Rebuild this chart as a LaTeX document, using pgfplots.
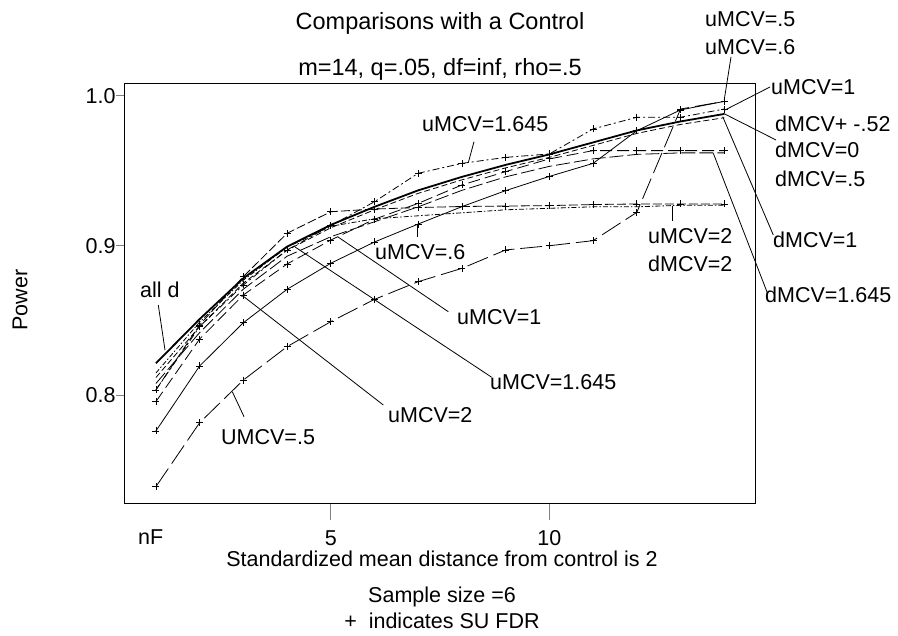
\documentclass[border=0pt]{standalone}
\usepackage{pgfplots}
\pgfplotsset{compat=1.18}
\usepackage{fontspec}
\setmainfont{Liberation Sans}
\begin{document}
\begin{tikzpicture}[x=1bp,y=1bp,font=\fontsize{21.5bp}{24bp}\selectfont]
\path[use as bounding box] (0,0) rectangle (898,636);
\begin{axis}[
  at={(124bp,132bp)}, anchor=south west,
  width=631bp, height=420bp, scale only axis,
  xmin=0.2704, xmax=14.703, ymin=0.72755, ymax=1.00801,
  xtick={5,10}, xticklabels={5,10},
  ytick={0.8,0.9,1.0}, yticklabels={0.8,0.9,1.0},
  tick align=outside, tick pos=left,
  xtick style={/pgfplots/major tick length=16bp, line width=1bp},
  ytick style={/pgfplots/major tick length=8bp, line width=1bp},
  axis line style={line width=1bp},
  tick label style={font=\fontsize{21.5bp}{24bp}\selectfont, inner sep=0pt},
  xticklabel style={anchor=base, yshift=-37bp},
  yticklabel style={anchor=east, xshift=-4bp},
  every axis plot/.append style={line width=0.8bp, black},
  mk/.style={mark=+, mark size=3.5bp, mark options={solid, line width=0.8bp}},
]
% uMCV=.5 (long dash)
\addplot[mk, dash pattern=on 22bp off 6bp] coordinates {(1,0.7391)(2,0.7818)(3,0.8103)(4,0.8326)(5,0.8493)(6,0.8642)(7,0.8760)(8,0.8849)(9,0.8972)(10,0.9000)(11,0.9034)(12,0.9223)(13,0.9913)(14,0.9964)};
% uMCV=.6 (solid)
\addplot[mk] coordinates {(1,0.7763)(2,0.8197)(3,0.8486)(4,0.8709)(5,0.8883)(6,0.9025)(7,0.9145)(8,0.9261)(9,0.9368)(10,0.9463)(11,0.9550)(12,0.9768)(13,0.9907)(14,0.9964)};
% flat ~0.927 (dashed)
\addplot[mk, dash pattern=on 9bp off 3bp] coordinates {(1,0.8037)(2,0.8471)(3,0.8794)(4,0.9083)(5,0.9227)(6,0.9245)(7,0.9255)(8,0.9262)(9,0.9265)(10,0.9268)(11,0.9275)(12,0.9279)(13,0.9279)(14,0.9279)};
% ->0.963 (dashed)
\addplot[mk, dash pattern=on 12bp off 5bp] coordinates {(1,0.7959)(2,0.8377)(3,0.8671)(4,0.8878)(5,0.9038)(6,0.9177)(7,0.9283)(8,0.9406)(9,0.9495)(10,0.9580)(11,0.9635)(12,0.9635)(13,0.9635)(14,0.9635)};
% ->0.991 (dash dot)
\addplot[mk, dash pattern=on 7bp off 3bp on 2bp off 3bp] coordinates {(1,0.8037)(2,0.8460)(3,0.8738)(4,0.8972)(5,0.9134)(6,0.9294)(7,0.9484)(8,0.9550)(9,0.9590)(10,0.9613)(11,0.9780)(12,0.9858)(13,0.9858)(14,0.9913)};
% all d (thick, no marks)
\addplot[line width=1.8bp] coordinates {(1,0.8215)(2,0.8510)(3,0.8783)(4,0.8994)(5,0.9139)(6,0.9260)(7,0.9370)(8,0.9460)(9,0.9540)(10,0.9610)(11,0.9690)(12,0.9770)(13,0.9830)(14,0.9880)};
% dMCV=1
\addplot[dash pattern=on 6bp off 3bp] coordinates {(1,0.8120)(2,0.8460)(3,0.8750)(4,0.8970)(5,0.9120)(6,0.9240)(7,0.9350)(8,0.9440)(9,0.9520)(10,0.9590)(11,0.9670)(12,0.9750)(13,0.9810)(14,0.9855)};
% dMCV=1.645
\addplot[dash pattern=on 14bp off 4bp] coordinates {(1,0.8080)(2,0.8420)(3,0.8710)(4,0.8930)(5,0.9060)(6,0.9160)(7,0.9260)(8,0.9370)(9,0.9460)(10,0.9530)(11,0.9580)(12,0.9610)(13,0.9620)(14,0.9620)};
% dMCV=2
\addplot[dash pattern=on 5bp off 2bp on 1.5bp off 2bp] coordinates {(1,0.8150)(2,0.8490)(3,0.8770)(4,0.8990)(5,0.9130)(6,0.9180)(7,0.9200)(8,0.9220)(9,0.9240)(10,0.9250)(11,0.9260)(12,0.9260)(13,0.9270)(14,0.9270)};
\end{axis}
% titles
\node[anchor=base, font=\fontsize{23.5bp}{26bp}\selectfont] at (440,606) {Comparisons with a Control};
\node[anchor=base, font=\fontsize{23.5bp}{26bp}\selectfont] at (440,560) {m=14, q=.05, df=inf, rho=.5};
% axis texts
\node[rotate=90, inner sep=0pt] at (20,336) {Power};
\node[anchor=base west, inner sep=0pt] at (138,91) {nF};
\node[anchor=base, inner sep=0pt] at (442,69) {Standardized mean distance from control is 2};
\node[anchor=base, inner sep=0pt] at (442,33) {Sample size =6};
\node[anchor=base, inner sep=0pt] at (442,7) {+\ \ indicates SU FDR};
% right labels
\begin{scope}[every node/.style={anchor=base west, inner sep=0pt}]
\node at (705,609) {uMCV=.5};
\node at (705,581) {uMCV=.6};
\node at (771,541) {uMCV=1};
\node at (775,504) {dMCV+ -.52};
\node at (775,478) {dMCV=0};
\node at (775,449) {dMCV=.5};
\node at (773,388) {dMCV=1};
\node at (765,333) {dMCV=1.645};
\node at (648,392) {uMCV=2};
\node at (648,364) {dMCV=2};
\node at (422,504) {uMCV=1.645};
\node at (375,376) {uMCV=.6};
\node at (457,311) {uMCV=1};
\node at (490,246) {uMCV=1.645};
\node at (388,213) {uMCV=2};
\node at (221,191) {UMCV=.5};
\node at (140,338) {all d};
\end{scope}
% pointer lines
\begin{scope}[line width=0.8bp]
\draw (731,579) -- (724.2,536);
\draw (770,549) -- (725,526);
\draw (776,496) -- (723.3,522.7);
\draw (773.3,401) -- (722.7,519.3);
\draw (767.3,343.3) -- (713.3,482.7);
\draw (672.3,430.3) -- (672.3,415.3);
\draw (474,494.3) -- (468.3,473.3);
\draw (417,399) -- (417,411);
\draw (448.3,324.3) -- (338,399);
\draw (491.7,258.7) -- (295,389);
\draw (383.3,231) -- (241.7,341);
\draw (244,219.3) -- (232.3,244.3);
\draw (158.3,331) -- (165,286);
\end{scope}
\end{tikzpicture}
\end{document}
